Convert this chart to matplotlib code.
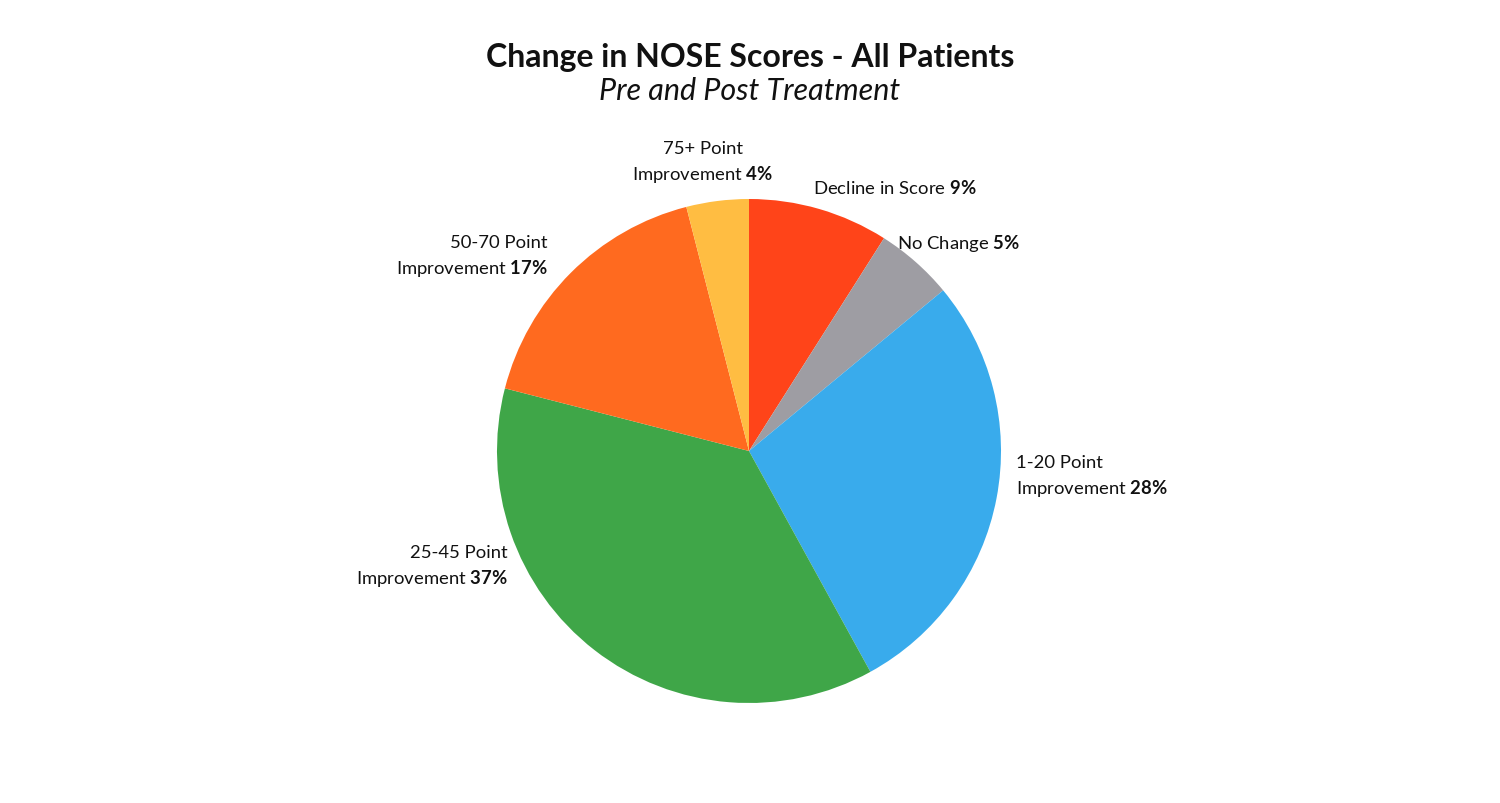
import matplotlib
matplotlib.use("Agg")
import matplotlib.pyplot as plt

# Fonts: Lato for text, bold Lato for the percentages inside mathtext
plt.rcParams['font.family'] = ['Lato', 'DejaVu Sans']
plt.rcParams['mathtext.fontset'] = 'custom'
plt.rcParams['mathtext.rm'] = 'Lato'
plt.rcParams['mathtext.bf'] = 'Lato:bold'
plt.rcParams['mathtext.it'] = 'Lato:italic'

# Data
categories = ['Decline in Score', 'No Change', '1-20 Point\nImprovement', '25-45 Point\nImprovement',
              '50-70 Point\nImprovement', '75+ Point\nImprovement']
values = [9, 5, 28, 37, 17, 4]
colors = ['#ff4419', '#9e9da3', '#39abec', '#3fa648', '#ff6a1f', '#ffbd42']

# Label anchors (pixels from top-left) and alignment
label_pos = [(813, 188), (897, 244), (1016, 477), (508, 567), (548, 257), (703, 163)]
label_ha = ['left', 'left', 'left', 'right', 'right', 'center']

W, H = 1500, 804
fig = plt.figure(figsize=(15, 8.04), dpi=100, facecolor='#ffffff')
ax = fig.add_axes([0, 0, 1, 1])

ax.pie(values, colors=colors, startangle=90, counterclock=False,
       center=(749, H - 452), radius=252, wedgeprops={'linewidth': 0},
       frame=True)
ax.set_xlim(0, W)
ax.set_ylim(0, H)
ax.set_aspect('equal')
ax.axis('off')

for cat, val, (x, y), ha in zip(categories, values, label_pos, label_ha):
    txt = cat + ' $\\mathbf{' + str(val) + '\\%}$'
    ax.text(x, H - y, txt, ha=ha, va='center', fontsize=13.3, color='#111111',
            linespacing=1.45)

# Title and subtitle
fig.text(0.5, 1 - 57 / H, 'Change in NOSE Scores - All Patients', ha='center', va='center',
         fontsize=23, fontweight='bold', color='#111111')
fig.text(0.5, 1 - 91 / H, 'Pre and Post Treatment', ha='center', va='center',
         fontsize=22, fontstyle='italic', color='#111111')

fig.savefig('out.png', dpi=100, facecolor=fig.get_facecolor())
